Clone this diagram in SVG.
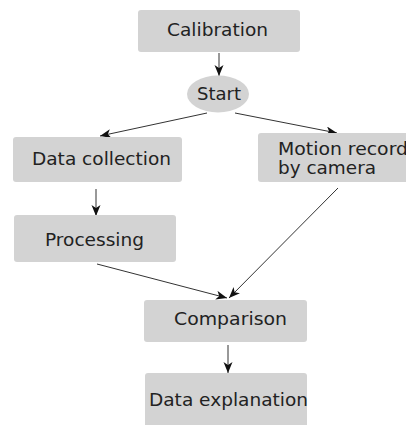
<svg xmlns="http://www.w3.org/2000/svg" width="406" height="425" viewBox="0 0 406 425">
<style>
.box{fill:#d3d3d3;stroke:none}
.lbl{font-family:"DejaVu Sans",sans-serif;font-size:17.5px;fill:#222}
.c{text-anchor:middle}
.conn{stroke:#333;stroke-width:1;fill:none;marker-end:url(#ah)}
</style>
<defs>
<marker id="ah" markerUnits="userSpaceOnUse" markerWidth="12" markerHeight="10" refX="11" refY="4.5" orient="auto">
<path d="M0,0 L11,4.5 L0,9 L3,4.5 z" fill="#111"/>
</marker>
</defs>
<rect width="406" height="425" fill="#fff"/>
<g id="connectors">
<line class="conn" x1="219" y1="53" x2="219" y2="76"/>
<line class="conn" x1="207" y1="113" x2="100" y2="136"/>
<line class="conn" x1="235" y1="113" x2="337" y2="133"/>
<line class="conn" x1="96" y1="189" x2="96" y2="216"/>
<line class="conn" x1="97" y1="264" x2="227" y2="298"/>
<line class="conn" x1="338" y1="188" x2="229" y2="298"/>
<line class="conn" x1="228" y1="345" x2="228" y2="373"/>
</g>
<g id="calibration">
<rect class="box" x="138" y="10" width="162" height="42" rx="3"/>
<text class="lbl c" x="217.5" y="36" textLength="101" lengthAdjust="spacingAndGlyphs">Calibration</text>
</g>
<g id="start">
<ellipse class="box" cx="218" cy="94" rx="31" ry="18.5"/>
<text class="lbl c" x="219" y="100" textLength="44" lengthAdjust="spacingAndGlyphs">Start</text>
</g>
<g id="data-collection">
<rect class="box" x="13" y="137" width="169" height="45" rx="3"/>
<text class="lbl c" x="101.5" y="165" textLength="139" lengthAdjust="spacingAndGlyphs">Data collection</text>
</g>
<g id="motion">
<rect class="box" x="258" y="133" width="150" height="49" rx="3"/>
<text class="lbl" x="278" y="155" textLength="130" lengthAdjust="spacingAndGlyphs">Motion record</text>
<text class="lbl" x="278" y="174" textLength="98" lengthAdjust="spacingAndGlyphs">by camera</text>
</g>
<g id="processing">
<rect class="box" x="14" y="215" width="162" height="47" rx="3"/>
<text class="lbl c" x="94.5" y="246" textLength="99" lengthAdjust="spacingAndGlyphs">Processing</text>
</g>
<g id="comparison">
<rect class="box" x="144" y="300" width="163" height="42" rx="3"/>
<text class="lbl c" x="230.5" y="325" textLength="113" lengthAdjust="spacingAndGlyphs">Comparison</text>
</g>
<g id="data-explanation">
<rect class="box" x="145" y="373" width="162" height="56" rx="3"/>
<text class="lbl c" x="228.5" y="406" textLength="159" lengthAdjust="spacingAndGlyphs">Data explanation</text>
</g>
</svg>
